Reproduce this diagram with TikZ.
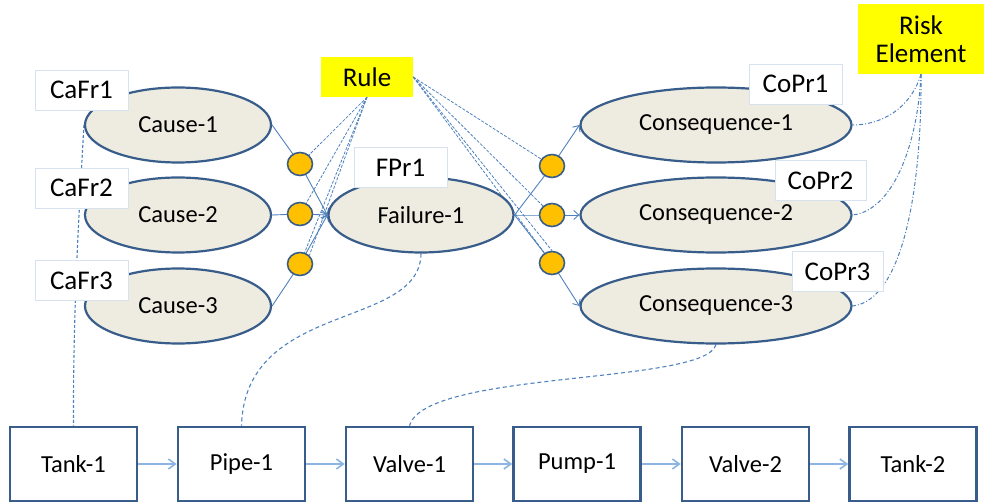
\documentclass[tikz,border=0pt]{standalone}
\usepackage{fontspec}
\setmainfont{Carlito}
\usetikzlibrary{shapes.geometric,arrows.meta}
\pgfdeclarelayer{bg}
\pgfsetlayers{bg,main}
\definecolor{bord}{RGB}{56,93,138}
\definecolor{conn}{RGB}{79,129,189}
\definecolor{flow}{RGB}{142,180,227}
\definecolor{tan}{RGB}{238,236,225}
\definecolor{orng}{RGB}{255,192,0}
\definecolor{yel}{RGB}{255,255,0}
\definecolor{lbord}{RGB}{214,226,240}
\begin{document}
\begin{tikzpicture}[x=1pt,y=-1pt,
  evt/.style={ellipse,draw=bord,line width=2.2pt,fill=tan,inner sep=0pt,
    minimum height=75pt,font=\fontsize{24.5}{28}\selectfont},
  lab/.style={rectangle,draw=lbord,line width=0.8pt,fill=white,inner sep=0pt,
    minimum height=40pt,font=\fontsize{27}{30}\selectfont},
  note/.style={rectangle,fill=yel,inner sep=0pt,align=center,
    font=\fontsize{27}{28}\selectfont},
  dot/.style={ellipse,draw=bord,line width=1.6pt,fill=orng,inner sep=0pt,
    minimum width=25pt,minimum height=23pt},
  blk/.style={rectangle,draw=bord,line width=2.6pt,fill=white,inner sep=0pt,
    minimum width=127pt,minimum height=74pt,font=\fontsize{24.5}{28}\selectfont},
  link/.style={draw=conn,line width=0.9pt},
  arr/.style={link,-{Straight Barb[length=5pt,width=9pt]}},
  flowarr/.style={draw=flow,line width=1.6pt,-{Straight Barb[length=7pt,width=10pt]}},
  ruleln/.style={draw=conn,line width=0.8pt,dash pattern=on 3pt off 1.5pt},
  dsh/.style={draw=conn,line width=1.1pt,dash pattern=on 4pt off 3pt},
  dotl/.style={draw=conn,line width=1.1pt,dash pattern=on 3pt off 2pt},
  dashdot/.style={draw=conn,line width=1pt,dash pattern=on 4pt off 2pt on 1pt off 2pt}
]
\useasboundingbox (0,0) rectangle (984,502);

% events
\node[evt,minimum width=186pt] (c1) at (178,125) {Cause-1};
\node[evt,minimum width=186pt] (c2) at (178,215) {Cause-2};
\node[evt,minimum width=186pt] (c3) at (178,306) {Cause-3};
\node[evt,minimum width=185pt] (f) at (421,215) {Failure-1};
\node[evt,minimum width=271pt] (k1) at (716,125) {Consequence-1};
\node[evt,minimum width=271pt] (k2) at (716,215) {Consequence-2};
\node[evt,minimum width=271pt] (k3) at (716,306) {Consequence-3};

% labels
\node[lab,minimum width=93pt] (cafr1) at (81.5,90) {CaFr1};
\node[lab,minimum width=93pt] (cafr2) at (81.5,188) {CaFr2};
\node[lab,minimum width=93pt] (cafr3) at (81.5,280.5) {CaFr3};
\node[lab,minimum width=93pt] (fpr1) at (400.5,167.5) {FPr1};
\node[lab,minimum width=93pt] (copr1) at (795.5,84) {CoPr1};
\node[lab,minimum width=91pt] (copr2) at (820.5,180.5) {CoPr2};
\node[lab,minimum width=91pt] (copr3) at (837.5,271.5) {CoPr3};
\node[note,minimum width=92pt,minimum height=40pt] (rule) at (367,77) {Rule};
\node[note,minimum width=126pt,minimum height=70pt] (risk) at (921,39) {Risk\\Element};

% gates
\node[dot] (l1) at (300,164) {};
\node[dot] (l2) at (300,214) {};
\node[dot] (l3) at (300,264) {};
\node[dot] (r1) at (552,166) {};
\node[dot] (r2) at (552,215) {};
\node[dot] (r3) at (552,263) {};

% components
\node[blk] (t1) at (73.5,464) {Tank-1};
\node[blk] (p1) at (241.5,464) {Pipe-1};
\node[blk] (v1) at (409.5,464) {Valve-1};
\node[blk] (pu) at (577,464) {Pump-1};
\node[blk] (v2) at (745.5,464) {Valve-2};
\node[blk] (t2) at (913,464) {Tank-2};

\draw[flowarr] (t1) -- (p1);
\draw[flowarr] (p1) -- (v1);
\draw[flowarr] (v1) -- (pu);
\draw[flowarr] (pu) -- (v2);
\draw[flowarr] (v2) -- (t2);

\begin{pgfonlayer}{bg}
  % causal links
  \draw[arr] (c1.east) -- (l1.center) -- (f.west);
  \draw[arr] (c2.east) -- (l2.center) -- (f.west);
  \draw[arr] (c3.east) -- (l3.center) -- (f.west);
  \draw[arr] (f.east) -- (r1.center) -- (k1.west);
  \draw[arr] (f.east) -- (r2.center) -- (k2.west);
  \draw[arr] (f.east) -- (r3.center) -- (k3.west);
  % rule fans
  \draw[ruleln] (rule.south) -- (l1.center);
  \draw[ruleln] (rule.south) -- (l2.center);
  \draw[ruleln] (rule.south) -- (l3.center);
  \draw[ruleln] (rule.south) -- (l3.north east);
  \draw[ruleln] (rule.east) -- (r1.center);
  \draw[ruleln] (rule.east) -- (r2.center);
  \draw[ruleln] (rule.east) -- (r3.center);
  \draw[ruleln] (rule.east) -- (r3.north);
  % mappings to components
  \draw[dotl] (c1.west) .. controls (80,200) and (73,300) .. (t1.north);
  \draw[dsh] (f.south) .. controls (420,330) and (245,300) .. (p1.north);
  \draw[dsh] (k3.south) .. controls (705,385) and (425,370) .. (v1.north);
  % risk element
  \draw[dashdot] (risk.south) .. controls (910,110) and (880,125) .. (k1.east);
  \draw[dashdot] (risk.south) .. controls (918,140) and (895,210) .. (k2.east);
  \draw[dashdot] (risk.south) .. controls (922,180) and (905,300) .. (k3.east);
\end{pgfonlayer}
\end{tikzpicture}
\end{document}
